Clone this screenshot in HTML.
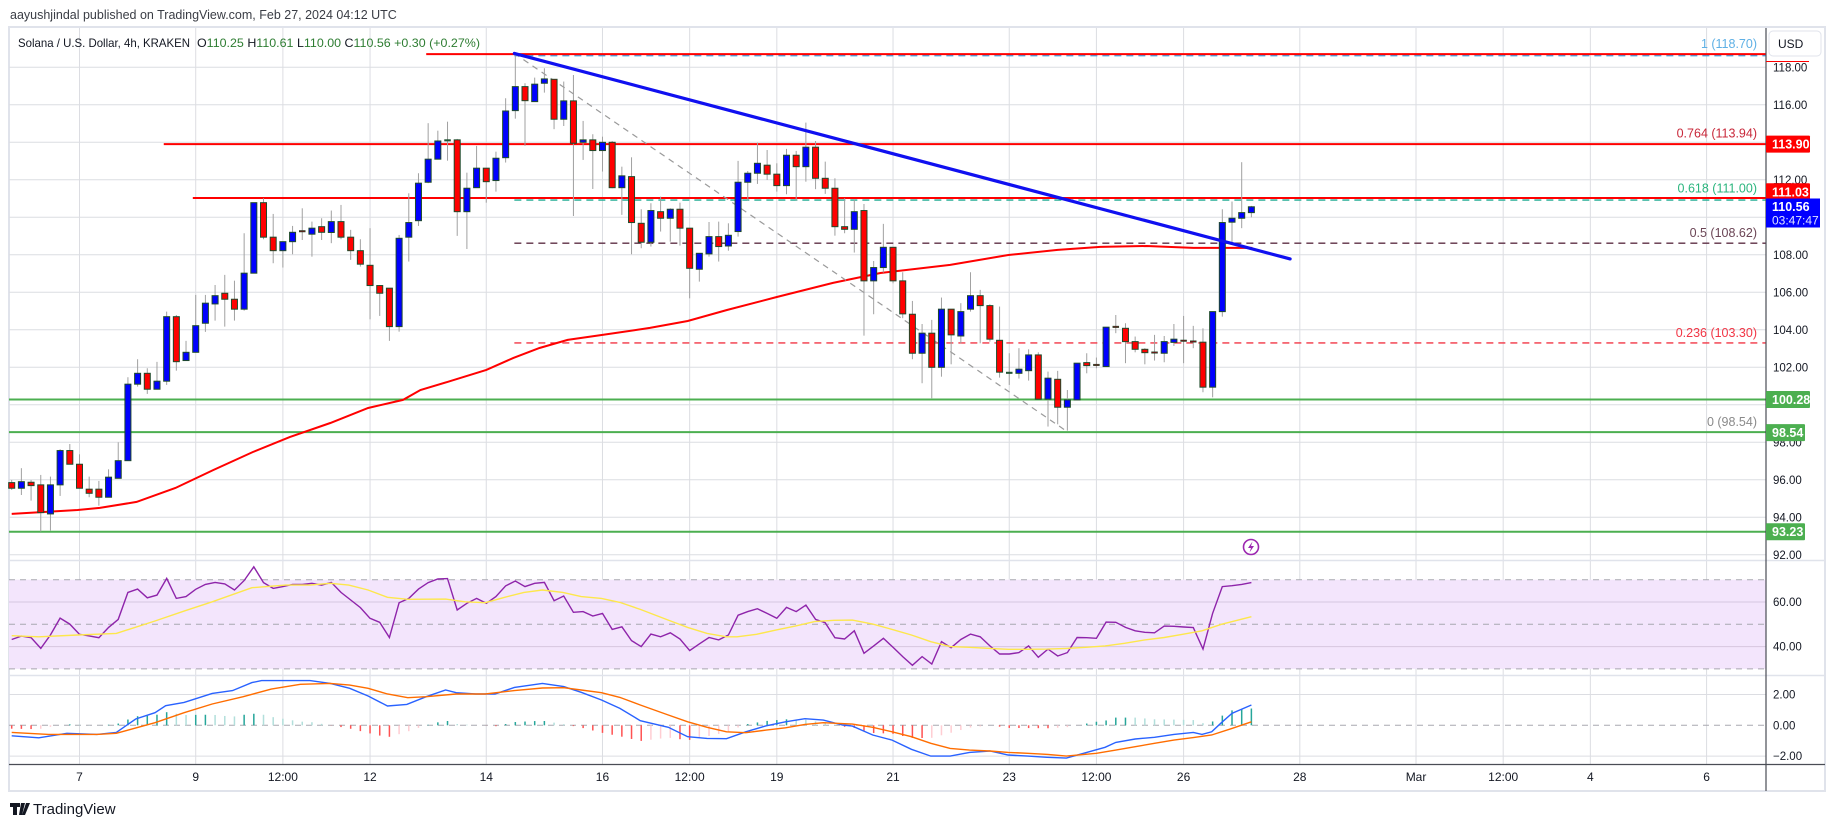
<!DOCTYPE html>
<html><head><meta charset="utf-8"><title>SOLUSD 4h</title>
<style>
html,body{margin:0;padding:0;background:#fff;width:1835px;height:827px;overflow:hidden;font-family:"Liberation Sans",sans-serif;}
svg{display:block}
text{font-family:"Liberation Sans",sans-serif;}
</style></head>
<body>
<svg id="chart" width="1835" height="827" viewBox="0 0 1835 827" xmlns="http://www.w3.org/2000/svg">
  <text x="10" y="19" font-size="12.5" fill="#3a3d45">aayushjindal published on TradingView.com, Feb 27, 2024 04:12 UTC</text>
  <rect x="9" y="27" width="1816" height="764" fill="#fff" stroke="#e0e3eb" stroke-width="2"/>
  <g id="grid"></g>
  <g id="rsiBand"></g>
  <g id="overlays"></g>
  <g id="candles"></g>
  <g id="lines"></g>
  <g id="ind"></g>
  <g id="axes"></g>
  <g>
    <text x="18" y="47" font-size="12" fill="#131722" textLength="172" lengthAdjust="spacingAndGlyphs">Solana / U.S. Dollar, 4h, KRAKEN</text>
    <text x="197" y="47" font-size="12" fill="#2e7d32" textLength="283" lengthAdjust="spacingAndGlyphs"><tspan fill="#131722">O</tspan>110.25 <tspan fill="#131722"> H</tspan>110.61 <tspan fill="#131722"> L</tspan>110.00 <tspan fill="#131722"> C</tspan>110.56  +0.30 (+0.27%)</text>
  </g>
  <g>
    <path d="M10 803h10v4h-3v8h-4v-8h-3z M21 803h4l-3 12h-3z M26 803h4l-5 12h-3z" fill="#131722"/>
    <text x="33" y="814" font-size="15" fill="#131722">TradingView</text>
  </g>
</svg>
<script>
// ---------- data ----------
const opens=[95.85,95.55,95.87,95.73,94.18,95.73,97.56,96.83,95.50,95.50,95.07,96.08,97.02,101.10,101.68,100.83,101.26,104.70,102.36,102.80,104.35,105.38,105.95,105.63,105.10,107.02,110.78,108.94,108.22,108.70,109.27,109.10,109.50,109.19,109.77,108.94,108.22,107.44,106.36,106.22,104.17,108.94,109.82,111.87,113.10,114.10,114.13,110.30,111.58,112.62,111.96,113.18,115.69,116.97,116.17,117.15,117.36,115.23,116.21,114.00,114.13,113.56,114.00,111.58,112.17,109.68,108.67,110.30,109.95,110.43,109.42,107.23,108.05,108.97,108.47,109.24,111.87,112.35,112.78,112.30,111.69,113.31,112.70,113.74,112.08,111.55,109.50,109.36,110.36,106.61,107.32,108.40,106.61,104.83,102.75,103.82,102.00,105.10,103.67,105.10,105.82,105.29,103.44,101.70,101.68,101.82,102.66,100.30,101.36,99.87,100.26,102.25,102.14,102.04,104.17,104.08,103.37,102.96,102.80,102.75,103.33,103.43,103.39,103.34,100.94,104.97,109.74,109.95,110.25];
const highs=[95.99,96.62,95.99,96.26,96.17,97.63,97.91,97.36,96.17,95.94,96.56,98.00,101.47,102.43,101.95,102.29,104.97,104.79,103.41,105.86,105.86,106.39,106.93,106.62,109.15,110.78,111.02,110.18,108.70,109.54,110.48,109.77,109.95,110.36,110.66,109.33,108.83,109.42,106.39,106.22,109.06,111.28,112.35,115.02,114.62,115.10,114.18,112.38,113.81,112.62,113.50,116.35,118.66,117.15,117.45,117.95,117.36,117.24,117.59,115.14,114.43,114.30,114.07,112.70,113.20,110.43,110.75,111.10,110.48,110.78,109.42,108.08,109.75,109.77,109.68,113.01,112.47,113.98,113.59,112.88,113.65,113.54,115.05,114.07,112.97,112.08,111.02,110.93,110.71,107.67,109.65,108.40,107.07,105.54,104.31,104.53,105.72,105.10,105.42,107.07,106.13,105.36,105.24,102.75,103.02,102.96,102.80,101.77,101.81,100.79,102.22,102.75,102.52,104.14,104.79,104.35,103.64,103.02,103.73,103.67,104.31,104.74,104.21,104.08,104.97,110.43,110.84,112.94,110.61];
const lows=[95.46,95.19,94.89,93.24,93.29,95.14,96.83,95.55,95.07,94.62,95.07,96.08,97.02,100.97,100.58,100.83,101.06,101.82,102.36,102.80,103.89,104.49,104.17,104.49,105.02,107.02,108.83,107.55,107.32,108.03,108.79,107.90,108.79,108.62,108.83,107.73,107.37,104.56,104.74,103.41,103.90,107.64,109.54,111.82,113.10,113.02,109.01,108.31,111.58,110.78,111.37,112.92,115.26,113.81,116.17,116.65,114.70,114.87,110.07,113.06,111.51,112.44,111.55,110.13,108.03,108.35,108.44,109.24,108.70,108.49,105.68,106.57,107.90,107.64,108.22,108.97,110.89,111.78,111.99,111.37,111.23,110.89,111.90,111.50,111.25,109.02,109.15,108.12,103.69,104.83,107.05,106.48,104.62,102.43,101.15,100.35,101.50,102.16,103.28,104.97,103.28,103.37,101.45,101.06,101.40,101.29,100.30,98.84,98.96,98.62,100.26,101.68,101.95,102.04,103.82,102.22,102.80,102.16,102.36,102.27,103.14,102.22,103.02,100.67,100.40,104.70,108.65,109.42,110.00];
const closes=[95.55,95.90,95.69,94.25,95.73,97.56,96.83,95.55,95.28,95.07,96.14,97.02,101.10,101.68,100.83,101.26,104.70,102.30,102.80,104.22,105.42,105.82,105.63,105.10,107.02,110.78,108.94,108.22,108.70,109.20,109.25,109.42,109.20,109.77,108.94,108.22,107.50,106.36,105.95,104.17,108.88,109.72,111.82,113.10,114.07,114.12,110.30,111.55,112.62,111.90,113.15,115.67,116.97,116.22,117.10,117.38,115.23,116.21,113.95,114.13,113.56,114.00,111.58,112.21,109.72,108.67,110.36,109.95,110.43,109.42,107.28,108.08,108.97,108.44,109.04,111.87,112.35,112.88,112.30,111.69,113.31,112.70,113.74,112.08,111.55,109.50,109.36,110.30,106.61,107.32,108.40,106.61,104.85,102.75,103.82,102.00,105.10,103.73,104.97,105.82,105.29,103.50,101.74,101.72,101.90,102.66,100.30,101.42,99.87,100.26,102.22,102.09,102.12,104.14,104.15,103.37,102.96,102.78,102.75,103.37,103.50,103.39,103.34,100.94,104.97,109.72,109.95,110.25,110.56];

const maIdx=[0,6.8,9.1,12.9,16.9,20.8,24.9,28.7,32.9,36.8,40.4,42.2,45.0,49.0,51.8,54.5,57.4,61.0,65.9,69.8,73.9,79.0,84.8,89.7,96.9,102.9,108.0,112.4,117.2,122.0,128.1];
const maVal=[94.18,94.39,94.50,94.82,95.56,96.52,97.48,98.28,99.03,99.83,100.26,100.79,101.22,101.86,102.50,103.03,103.46,103.73,104.10,104.47,105.06,105.75,106.50,107.03,107.46,107.99,108.26,108.42,108.47,108.37,108.37];

const rsiVals=[43.2,44.7,44.0,39.2,45.2,52.8,50.1,45.5,44.8,44.0,48.6,52.2,64.3,65.8,61.9,63.1,70.6,61.6,62.4,65.7,67.9,68.8,68.1,65.4,69.6,75.8,68.7,66.1,66.9,67.9,67.9,68.4,67.6,68.8,64.3,60.9,57.5,52.7,50.9,44.1,59.7,61.6,65.8,68.7,70.3,70.5,56.4,59.4,61.6,59.4,62.4,67.2,69.4,66.9,68.4,68.8,60.6,62.7,55.4,55.7,53.7,54.9,47.7,48.9,42.7,
40.0,45.6,44.4,46.2,43.4,38.2,41.2,44.1,43.0,45.2,54.1,55.7,57.0,54.9,52.7,57.6,55.7,58.6,52.2,50.7,44.0,43.4,47.1,37.0,40.3,43.7,39.7,35.5,31.6,35.5,32.2,42.2,39.5,43.2,45.6,44.4,40.3,36.7,36.7,37.3,40.3,35.2,38.9,35.8,37.3,44.1,44.0,43.7,51.0,50.9,48.6,47.1,46.4,46.2,49.2,49.1,48.8,48.5,38.9,54.9,66.9,67.3,67.9,68.7];
const rsiMaIdx=[0,2.8,6.8,10.8,14.8,17.8,20.7,24.8,28.3,30.8,32.9,34.8,36.8,38.8,40.9,44.8,46.8,48.9,50.9,52.9,54.8,56.9,58.8,60.9,62.8,64.9,67.8,69.8,71.8,73.8,74.9,76.9,78.9,80.9,82.9,84.9,86.8,88.9,90.9,92.9,94.9,96.9,98.9,101,102.9,104.9,107,108.9,110.9,112.9,114.9,117,119,120.9,122.9,124.9,128];
const rsiMaVal=[44.9,44.4,45.2,45.9,51.5,55.9,60.1,66.4,67.6,67.6,68.4,67.6,65.4,62.1,61.2,61.3,60.1,59.7,62.1,64.3,65.4,64.3,62.4,61.6,59.8,56.7,51.9,48.6,45.9,44.4,44.4,45.5,47.4,49.2,51.2,51.8,51.9,50.1,47.7,45.2,42.2,40.0,39.7,39.2,38.8,38.8,38.9,39.2,39.7,40.3,41.5,43.0,44.1,45.5,47.1,50.0,53.4];

const macdIdx=[0,2.8,5.7,8.8,10.8,12.8,14.8,15.9,17.8,20.7,22.8,24.8,25.8,27.9,30.8,32.9,34.9,36.8,38.8,40.8,42.8,44.8,45.9,47.9,49.9,51.9,54.8,57.0,58.8,60.9,62.8,64.9,67.8,69.8,71.8,73.8,75.8,77.9,79.9,81.9,83.8,85.8,86.8,88.9,90.9,92.9,94.9,96.9,98.9,101.0,102.9,104.9,106.9,108.9,110.9,112.9,114.0,116.0,118.0,120.0,122.0,122.9,123.9,124.9,126.0,128.0];
const macdVal=[-0.68,-0.81,-0.52,-0.59,-0.46,0.41,0.82,1.27,1.49,2.07,2.25,2.77,2.90,2.90,2.90,2.72,2.40,1.90,1.25,1.36,1.86,2.29,2.12,2.03,2.03,2.46,2.72,2.51,2.14,1.64,1.10,0.30,-0.13,-0.74,-0.85,-0.87,-0.42,-0.03,0.23,0.43,0.34,0.02,-0.05,-0.63,-0.96,-1.56,-2.00,-2.00,-1.76,-1.67,-1.93,-2.00,-2.08,-2.13,-1.78,-1.43,-1.11,-0.89,-0.78,-0.59,-0.46,-0.59,-0.42,0.17,0.77,1.32];
const sigIdx=[0,3.8,8.8,10.8,14.8,17.8,20.7,23.9,26.8,29.8,32.9,34.9,36.8,38.8,40.9,42.8,45.9,48.9,51.9,54.8,57.0,58.8,60.9,62.8,64.9,67.8,69.8,71.8,73.8,75.8,77.9,79.9,81.9,83.8,86.8,88.9,90.9,92.9,94.9,96.9,98.9,101.0,102.9,104.9,107.0,108.9,112.0,114.0,116.0,118.0,120.0,122.0,123.9,126.0,128.0];
const sigVal=[-0.46,-0.59,-0.59,-0.52,0.17,0.82,1.38,1.86,2.35,2.66,2.72,2.61,2.40,2.03,1.79,1.86,2.03,2.03,2.25,2.42,2.44,2.29,2.12,1.81,1.32,0.67,0.23,-0.13,-0.42,-0.48,-0.31,-0.16,0.06,0.17,0.08,-0.13,-0.42,-0.74,-1.17,-1.50,-1.61,-1.67,-1.76,-1.82,-1.89,-2.00,-1.82,-1.61,-1.39,-1.17,-0.96,-0.80,-0.63,-0.20,0.23];

const priceTicks=[118,116,114,112,110,108,106,104,102,100,98,96,94,92];
const priceTickLabels=["118.00","116.00","","112.00","","108.00","106.00","104.00","102.00","","98.00","96.00","94.00","92.00"];
const rsiTicks=[60,40];
const macdTicks=[2,0,-2];
const dateIdx=[7,19,28,37,49,61,70,79,91,103,112,121,133,145,154,163,175];
const dateLabels=["7","9","12:00","12","14","16","12:00","19","21","23","12:00","26","28","Mar","12:00","4","6"];

const resistLevels=[118.70,113.90,111.03];
const resistStart=[42.8,15.7,18.7];
const supportLevels=[100.28,98.54,93.23];
const fibRatios=["1","0.764","0.618","0.5","0.236","0"];
const fibPrices=[118.70,113.94,111.00,108.62,103.30,98.54];
const fibColors=["#4aa3df","#e03030","#22ab94","#5d2f44","#f23645","#888888"];
const fibLabelColors=["#5eb0e5","#c8283a","#2bb57e","#6b4555","#f23645","#8a8a8a"];
const fibStart=51.9;
const trendIdx=[51.9,132];
const trendVal=[118.74,107.78];
const fibTrendIdx=[51.9,108.9];
const fibTrendVal=[118.74,98.6];
const lastPrice=110.56;

// ---------- scales ----------
const PL=9, PR=1766;
function xI(i){return 11.7+i*9.685;}
function yP(p){return 67.3+(118-p)*18.75;}
function yR(r){return 624.3-(r-50)*2.23;}
function yM(m){return 725.3-m*15.4;}
const NS="http://www.w3.org/2000/svg";
function mk(tag,attrs,parent){const e=document.createElementNS(NS,tag);for(const k in attrs)e.setAttribute(k,attrs[k]);parent.appendChild(e);return e;}

const grid=document.getElementById('grid');
const axes=document.getElementById('axes');
const ov=document.getElementById('overlays');
const cg=document.getElementById('candles');
const lg=document.getElementById('lines');
const ind=document.getElementById('ind');
const band=document.getElementById('rsiBand');

dateIdx.forEach((d,k)=>{
  const l=mk('line',{x1:xI(d),x2:xI(d),y1:28,y2:764,stroke:'#dcdde2','stroke-width':1},grid);
  
  
  const t=mk('text',{x:xI(d),y:781,'font-size':12,fill:'#131722','text-anchor':'middle'},axes);
  
  
  t.textContent=dateLabels[k];
});
priceTicks.forEach((p,k)=>{
  const l=mk('line',{x1:PL,x2:PR,y1:yP(p),y2:yP(p),stroke:'#dcdde2','stroke-width':1},grid);
  
  
  if(priceTickLabels[k]){
    const t=mk('text',{x:1773,y:yP(p)+4,'font-size':11.5,fill:'#131722'},axes);
    
    
    t.textContent=priceTickLabels[k];
  }
});
[560.5,675.5].forEach(y=>{
  const l=mk('line',{x1:PL,x2:1825,y1:y,y2:y,stroke:'#e0e3eb','stroke-width':1.5},grid);
  
  
});
const br=mk('rect',{x:PL,y:yR(70),width:PR-PL,height:yR(30)-yR(70),fill:'#f3e5fc'},band);


rsiTicks.forEach(r=>{
  const l=mk('line',{x1:PL,x2:PR,y1:yR(r),y2:yR(r),stroke:'#d6c6df','stroke-width':1},band);
  
  
  const t=mk('text',{x:1773,y:yR(r)+4,'font-size':11.5,fill:'#131722'},axes);
  
  
  t.textContent=r.toFixed(2);
});
[70,50,30].forEach(r=>{
  const l=mk('line',{x1:PL,x2:PR,y1:yR(r),y2:yR(r),stroke:'#a8a8b0','stroke-width':1,'stroke-dasharray':'6 5'},band);
  
  
});
macdTicks.forEach(m=>{
  const l=mk('line',{x1:PL,x2:PR,y1:yM(m),y2:yM(m),stroke:m===0?'#a8a8b0':'#dcdde2','stroke-width':1,'stroke-dasharray':m===0?'6 5':'none'},grid);
  
  
  const t=mk('text',{x:1773,y:yM(m)+4,'font-size':11.5,fill:'#131722'},axes);
  
  
  t.textContent=(m<0?'\u2212'+Math.abs(m).toFixed(2):m.toFixed(2));
});
const ax1=mk('line',{x1:PR,x2:PR,y1:28,y2:791,stroke:'#4a4d55','stroke-width':1.2},axes);


const ax2=mk('line',{x1:PL,x2:1825,y1:764.5,y2:764.5,stroke:'#4a4d55','stroke-width':1.2},axes);



fibPrices.forEach((p,k)=>{
  if(k!==1){
    const off=(k===0||k===2)?1.5:0;
    const l=mk('line',{x1:xI(fibStart),x2:PR,y1:yP(p)+off,y2:yP(p)+off,stroke:fibColors[k],'stroke-width':1.3,'stroke-dasharray':'7 5'},ov);
    
    
  }
  const t=mk('text',{x:1757,y:yP(p)-6,'font-size':12.5,fill:fibLabelColors[k],'text-anchor':'end'},ov);
  
  
  t.textContent=fibRatios[k]+' ('+p.toFixed(2)+')';
});
resistLevels.forEach((p,k)=>{
  const l=mk('line',{x1:xI(resistStart[k]),x2:PR,y1:yP(p),y2:yP(p),stroke:'#ff0000','stroke-width':2},ov);
  
  
});
supportLevels.forEach(p=>{
  const l=mk('line',{x1:PL,x2:PR,y1:yP(p),y2:yP(p),stroke:'#4caf50','stroke-width':2},ov);
  
  
});
{
  let d='';
  maIdx.forEach((i,k)=>{d+=(k?'L':'M')+xI(i).toFixed(1)+' '+yP(maVal[k]).toFixed(1);});
  const p=mk('path',{d:d,fill:'none',stroke:'#ff0000','stroke-width':2},ov);
  
  
}
{
  const l=mk('line',{x1:xI(fibTrendIdx[0]),y1:yP(fibTrendVal[0]),x2:xI(fibTrendIdx[1]),y2:yP(fibTrendVal[1]),stroke:'#9a9a9a','stroke-width':1.2,'stroke-dasharray':'6 5'},ov);
  
  
}
for(let i=0;i<opens.length;i++){
  const o=opens[i],h=highs[i],lo=lows[i],c=closes[i];
  const x=xI(i);
  const w=mk('line',{x1:x,x2:x,y1:yP(h),y2:yP(lo),stroke:'#a0a0a0','stroke-width':1},cg);
  
  
  const up=c>=o;
  const top=yP(Math.max(o,c)), bot=yP(Math.min(o,c));
  const hgt=Math.max(bot-top,1.5);
  const small=(bot-top)<2;
  const b=mk('rect',{x:x-3,y:top-(small?0.5:0),width:6,height:hgt,fill:small?(up?'#1f5a3a':'#6a1a1a'):(up?'#0000ff':'#ff0000'),stroke:'#1e4a2a','stroke-width':small?0.5:1},cg);
  
  
}
{
  const l=mk('line',{x1:xI(trendIdx[0]),y1:yP(trendVal[0]),x2:xI(trendIdx[1]),y2:yP(trendVal[1]),stroke:'#1010f0','stroke-width':3.2,'stroke-linecap':'round'},lg);
  
  
}
{
  let d='';
  rsiVals.forEach((v,i)=>{d+=(i?'L':'M')+xI(i).toFixed(1)+' '+yR(v).toFixed(1);});
  const p=mk('path',{d:d,fill:'none',stroke:'#8e24aa','stroke-width':1.4},ind);
  
  
  let d2='';
  rsiMaIdx.forEach((i,k)=>{d2+=(k?'L':'M')+xI(i).toFixed(1)+' '+yR(rsiMaVal[k]).toFixed(1);});
  const p2=mk('path',{d:d2,fill:'none',stroke:'#fde74c','stroke-width':1.4},ind);
  
  
}
function interp(ix,vs,t){
  if(t<=ix[0])return vs[0];
  for(let k=1;k<ix.length;k++){if(t<=ix[k]){const f=(t-ix[k-1])/(ix[k]-ix[k-1]);return vs[k-1]+f*(vs[k]-vs[k-1]);}}
  return vs[vs.length-1];
}
{
  let prev=0;
  for(let i=0;i<opens.length;i++){
    const hv=interp(macdIdx,macdVal,i)-interp(sigIdx,sigVal,i);
    let col;
    if(hv>=0)col=hv>=prev?'#26a69a':'#b2dfdb';else col=hv<=prev?'#ff5252':'#ffcdd2';
    prev=hv;
    const b=mk('line',{x1:xI(i),x2:xI(i),y1:yM(0),y2:yM(hv),stroke:col,'stroke-width':1.5},ind);
    
    
  }
  let d='';
  macdIdx.forEach((i,k)=>{d+=(k?'L':'M')+xI(i).toFixed(1)+' '+yM(macdVal[k]).toFixed(1);});
  const p=mk('path',{d:d,fill:'none',stroke:'#2962ff','stroke-width':1.4},ind);
  
  
  let d2='';
  sigIdx.forEach((i,k)=>{d2+=(k?'L':'M')+xI(i).toFixed(1)+' '+yM(sigVal[k]).toFixed(1);});
  const p2=mk('path',{d:d2,fill:'none',stroke:'#ff6d00','stroke-width':1.4},ind);
  
  
}
function tag(y,txt,col,w,name){
  const r=mk('rect',{x:PR,y:y-8.5,width:w,height:17,fill:col,rx:1},axes);
  
  
  const t=mk('text',{x:1772,y:y+4.5,'font-size':12.5,'font-weight':'bold',fill:'#fff'},axes);
  
  
  t.textContent=txt;
}
tag(yP(113.90),'113.90','#ff0000',44,'resistance-price-tag');
tag(191.8,'111.03','#ff0000',44,'resistance-price-tag');
tag(yP(100.28),'100.28','#4caf50',44,'support-price-tag');
tag(432.6,'98.54','#4caf50',39,'support-price-tag');
tag(yP(93.23),'93.23','#4caf50',39,'support-price-tag');
{
  const r=mk('rect',{x:PR,y:198.5,width:54,height:29,fill:'#0000ff'},axes);
  
  
  const t=mk('text',{x:1772,y:211,'font-size':12.5,'font-weight':'bold',fill:'#fff'},axes);
  
  
  t.textContent=lastPrice.toFixed(2);
  const t2=mk('text',{x:1772,y:224.5,'font-size':12,fill:'#e0e4ff'},axes);
  
  
  t2.textContent='03:47:47';
  const rr=mk('line',{x1:PR,x2:1809,y1:61.5,y2:61.5,stroke:'#ff0000','stroke-width':1},axes);
  
  
  const u=mk('rect',{x:1769,y:31,width:52,height:25,rx:4,fill:'#fff',stroke:'#e0e3eb'},axes);
  
  
  const ut=mk('text',{x:1778,y:48,'font-size':12,fill:'#131722'},axes);
  
  
  ut.textContent='USD';
  const c=mk('circle',{cx:1251,cy:547,r:7.5,fill:'#fff',stroke:'#9c27b0','stroke-width':1.6},axes);
  
  
  const bolt=mk('path',{d:'M1252.5 541.5 L1248 548 L1251 548 L1249.5 552.5 L1254 546 L1251 546 Z',fill:'#9c27b0'},axes);
  
  
}
</script>
</body></html>
